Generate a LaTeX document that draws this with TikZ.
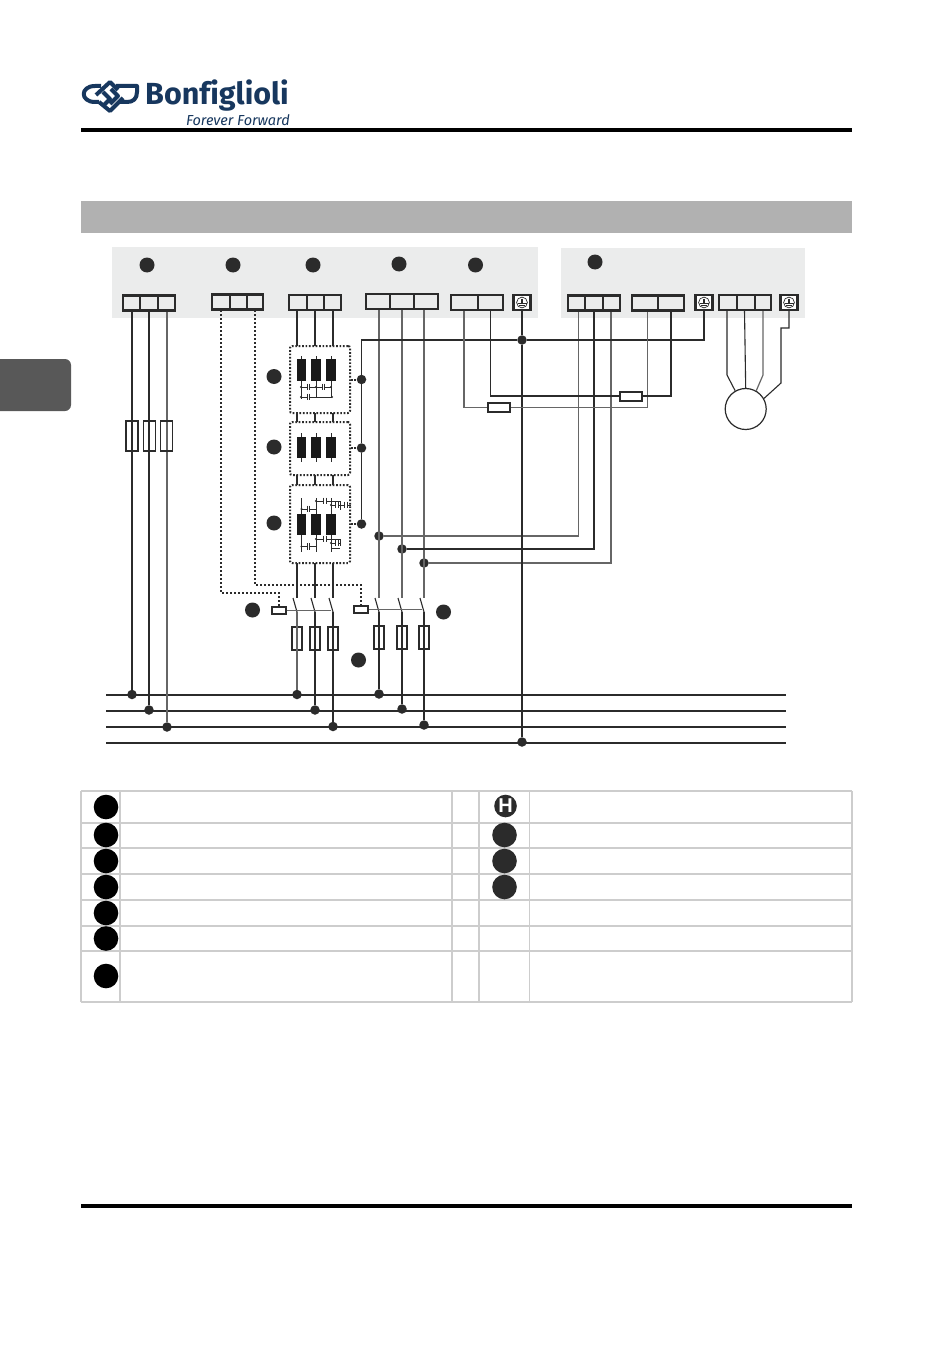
\documentclass[tikz,border=0pt]{standalone}
\usepackage{fontspec}
\setmainfont{Fira Sans}
\newfontfamily\logofont[Ligatures=NoCommon]{Fira Sans}
\newfontfamily\hfont{Liberation Sans}
\definecolor{ink}{HTML}{2B2B2B}
\definecolor{paneg}{HTML}{EBECEC}
\definecolor{barg}{HTML}{B1B1B1}
\definecolor{tabg}{HTML}{585858}
\definecolor{tabl}{HTML}{CDCDCD}
\definecolor{logob}{HTML}{17375E}
\definecolor{wg}{HTML}{666666}
\tikzset{
  x=1pt,y=-1pt,
  cell/.style={draw=ink,line width=2.2pt,inner sep=0pt,minimum height=15pt},
  wa/.style={draw=ink,line width=1.8pt},
  wb/.style={draw=ink,line width=1.1pt},
  wc/.style={draw=wg,line width=1.2pt},
  dashw/.style={draw=ink,line width=1.3pt,dash pattern=on 2.2pt off 1.8pt},
  dotbox/.style={draw=ink,line width=2pt,dash pattern=on 1.7pt off 1.7pt,rounded corners=2pt,inner sep=0pt},
  jn/.style={circle,fill=ink,inner sep=0pt,minimum size=9.5pt},
  mdot/.style={circle,fill=ink,inner sep=0pt,minimum size=15pt},
  leg/.style={circle,fill=black,inner sep=0pt,minimum size=24.6pt},
  legb/.style={circle,fill=ink,inner sep=0pt,minimum size=24.6pt},
  fusev/.style={draw=ink,line width=2pt,inner sep=0pt,minimum width=10pt,minimum height=23pt},
  fuset/.style={draw=ink,line width=1.9pt,inner sep=0pt,minimum width=12pt,minimum height=30pt},
  fuseh/.style={draw=ink,line width=2pt,inner sep=0pt,minimum width=22pt,minimum height=9pt},
  coil/.style={draw=ink,line width=1.1pt,fill=white,inner sep=0pt,minimum width=14pt,minimum height=7pt},
  chokebk/.style={fill=black!90,inner sep=0pt,minimum width=9.5pt},
  tabline/.style={draw=tabl,line width=1.4pt},
  capw/.style={draw=ink,line width=.9pt},
}
\newcommand{\earthterm}[3]{%
  \node[cell,fill=white,minimum width=17pt] (#1) at (#2,#3) {};
  \draw[ink,line width=.7pt] (#2,#3) circle[radius=5.4];
  \draw[ink,line width=1.1pt] (#2,#3-4) -- (#2,#3+1) (#2-4.5,#3+1) -- (#2+4.5,#3+1) (#2-3,#3+3) -- (#2+3,#3+3);
}
\newcommand{\capv}[2]{% horizontal wire with a capacitor
  \fill[white] (#1-1.2,#2-3) rectangle (#1+1.2,#2+3);
  \draw[capw] (#1-1.3,#2-3.4) -- (#1-1.3,#2+3.4) (#1+1.3,#2-3.4) -- (#1+1.3,#2+3.4);
}
\begin{document}
\begin{tikzpicture}
\useasboundingbox (0,0) rectangle (950,1348);
\fill[white] (0,0) rectangle (950,1348);

% page furniture
\node[font=\logofont\bfseries\fontsize{30.5}{30}\selectfont,text=logob,anchor=base west,inner sep=0pt] (brand) at (145,104.5) {Bonfiglioli};
\node[font=\logofont\itshape\fontsize{14.5}{14}\selectfont,text=logob,anchor=base east,inner sep=0pt] (claim) at (290,125.5) {Forever Forward};
\begin{scope}[logob,line width=4pt,line join=round]
 \draw (101,86) -- (95,86) .. controls (80,86) and (80,102) .. (95,102) -- (99,102);
 \draw (96,95) -- (110,82) -- (118,90);
 \draw (103,92) -- (110,99) -- (103,106);
 \draw (99,102) -- (110,111) -- (123,98);
 \draw (111,89) -- (118,96) -- (110,104);
 \draw (116,86) -- (137,86) -- (137,92) .. controls (137,99) and (133,102) .. (127,102) -- (120,102);
\end{scope}
\fill[black] (81,128.2) rectangle (852,131.8);
\fill[barg] (81,201) rectangle (852,233.5);
\fill[black] (81,1204.3) rectangle (852,1207.7);
\path[fill=tabg,rounded corners=6pt] (-10,359) rectangle (71,411);

% grey panels
\fill[paneg] (112,247) rectangle (538,318);
\fill[paneg] (561,248) rectangle (805,318);

% header markers
\node[mdot] (m1) at (147,265) {};
\node[mdot] (m2) at (233,265) {};
\node[mdot] (m3) at (313,265) {};
\node[mdot] (m4) at (399,264) {};
\node[mdot] (m5) at (475.5,265) {};
\node[mdot] (m6) at (595,262) {};
\node[mdot] (m7) at (274,376.5) {};
\node[mdot] (m8) at (274,447) {};
\node[mdot] (m9) at (274,523) {};
\node[mdot] (m10) at (252.5,610) {};
\node[mdot] (m11) at (443.5,612) {};
\node[mdot] (m12) at (358.5,660) {};

% terminal wire start points
\foreach \n/\x/\y in {a1/132/311,a2/149/311,a3/167/311,
  b1/221/310,b3/255/310,
  c1/297/311,c2/315/311,c3/333/311,
  d1/379/310,d2/402/310,d3/424/310,
  e1/464/311,e2/490.5/311,
  f1/578.5/311,f2/594/311,f3/611/311,
  g1/647.5/311,g2/671/311,
  h1/727/311,h2/744.5/311,h3/763/311,
  pe1/522/311,pe2/704/311,pe3/789/311}
  \coordinate (\n) at (\x,\y);

% filter boxes
\node[dotbox,minimum width=60pt,minimum height=67pt] (fa) at (320,379.5) {};
\node[dotbox,minimum width=60pt,minimum height=53pt] (fb) at (320,448.5) {};
\node[dotbox,minimum width=60pt,minimum height=78pt] (fc) at (320,524) {};

% bus bars
\foreach \n/\y in {1/695,2/711,3/727,4/743}{
  \coordinate (busl\n) at (106,\y);
  \coordinate (busr\n) at (786,\y);
  \draw[ink,line width=2pt] (busl\n) -- (busr\n);
}

% junctions
\node[jn] (ja1) at (132,694.5) {};
\node[jn] (ja2) at (149,710) {};
\node[jn] (ja3) at (167,727) {};
\node[jn] (jc1) at (297,694.5) {};
\node[jn] (jc2) at (315,710) {};
\node[jn] (jc3) at (333,726.5) {};
\node[jn] (jd1) at (379,694) {};
\node[jn] (jd2) at (402,709) {};
\node[jn] (jd3) at (424,725) {};
\node[jn] (jpe) at (522,742) {};
\node[jn] (jr) at (522,340) {};
\node[jn] (js1) at (361.5,379.5) {};
\node[jn] (js2) at (361.5,448) {};
\node[jn] (js3) at (361.5,524) {};
\node[jn] (jt1) at (379,536) {};
\node[jn] (jt2) at (402,549) {};
\node[jn] (jt3) at (424,563) {};

% mains wires with fuses
\draw[wa] (a1) -- (ja1);
\draw[wa] (a2) -- (ja2);
\draw[wc,line width=1.6pt] (a3) -- (ja3);
\node[fuset] (fu1) at (132,436) {};
\node[fuset] (fu2) at (149.5,436) {};
\node[fuset] (fu3) at (166.5,436) {};

% dashed control
\coordinate (cc1) at (279,593);
\coordinate (cc2) at (361,585);
\node[coil] (coila) at (279,610.5) {};
\node[coil] (coilb) at (361,609.5) {};
\draw[dashw] (b1) |- (cc1) -- (coila);
\draw[dashw] (b3) |- (cc2) -- (coilb);

% contactor 1 wires: segments between the filter boxes
\foreach \x/\n/\k in {297/1/c1,315/2/c2,333/3/c3}{
  \coordinate (sw\n t) at (\x,598);
  \coordinate (sw\n a) at (\x-4,598);
  \coordinate (sw\n b) at (\x,612);
  \coordinate (seg\n p) at (\x,346);
  \coordinate (seg\n q) at (\x,413);
  \coordinate (seg\n r) at (\x,422);
  \coordinate (seg\n s) at (\x,475);
  \coordinate (seg\n u) at (\x,485);
  \coordinate (seg\n v) at (\x,563);
  \draw[wa] (\k) -- (seg\n p) (seg\n q) -- (seg\n r) (seg\n s) -- (seg\n u) (seg\n v) -- (sw\n t);
  \draw[wb] (sw\n a) -- (sw\n b);
  \node[fusev] (fc\n) at (\x,638.5) {};
}
\draw[wc,line width=1.6pt] (sw1b) -- (jc1);
\draw[wb] (sw2b) -- (jc2);
\draw[wb] (sw3b) -- (jc3);
\draw[wc] (coila) -- (331,610.5);

% contactor 2 wires
\foreach \x/\n/\k in {379/4/d1,402/5/d2,424/6/d3}{
  \coordinate (sw\n t) at (\x,598);
  \coordinate (sw\n a) at (\x-4,598);
  \coordinate (sw\n b) at (\x,612);
  \draw[wc] (\k) -- (sw\n t);
  \draw[wb] (sw\n a) -- (sw\n b);
  \node[fusev] (fc\n) at (\x,637.5) {};
}
\draw[wb] (sw4b) -- (jd1);
\draw[wb] (sw5b) -- (jd2);
\draw[wb] (sw6b) -- (jd3);
\draw[wc] (coilb) -- (422,609.5);

% inverter connections
\draw[wc] (jt1) -| (f1);
\draw[wb] (jt2) -| (f2);
\draw[wc] (jt3) -| (f3);

% PE
\coordinate (per) at (361.5,340);
\draw[wa] (pe1) -- (jr);
\draw[wa] (jr) -- (jpe);
\draw[wa] (jr) -- (per) -- (js1);
\draw[wa] (js1) -- (js2);
\draw[wa] (js2) -- (js3);
\draw[wa] (jr) -| (pe2);
\foreach \j/\y in {js1/379.5,js2/448,js3/524}
  \draw[ink,line width=2pt,dash pattern=on 1.7pt off 1.7pt] (351,\y) -- (\j);

% brake resistor / DC lines
\node[fuseh] (fh1) at (498.5,407.5) {};
\node[fuseh] (fh2) at (631,396) {};
\draw[wc] (e1) |- (fh1);
\draw[wc] (fh1) -| (g1);
\draw[wb] (e2) |- (fh2);
\draw[wb] (fh2) -| (g2);

% motor
\node[circle,draw=ink,line width=1.2pt,inner sep=0pt,minimum size=41pt] (motor) at (745.7,409) {};
\coordinate (mk1) at (727,375);
\coordinate (mk3) at (763,375);
\coordinate (mkp1) at (789,328);
\coordinate (mkp2) at (781,328);
\coordinate (mkp3) at (781,383);
\draw[wb] (h1) -- (mk1) -- (motor.120);
\draw[wb] (h2) -- (motor.north);
\draw[wc] (h3) -- (mk3) -- (motor.60);
\draw[wb] (pe3) -- (mkp1) -- (mkp2) -- (mkp3) -- (motor.30);

% terminal blocks
\foreach \n/\x/\w/\y in {t1a/131.5/17/303,t1b/149/18/303,t1c/166.5/17/303,
  t2a/221/18/302,t2b/238.5/17/302,t2c/255/16/302,
  t3a/298/18/302.5,t3b/315.5/17/302.5,t3c/332.5/17/302.5,
  t4a/378/24/301.5,t4b/402/24/301.5,t4c/426/24/301.5,
  t5a/464.5/27/302.5,t5b/490.5/25/302.5,
  t6a/576.5/17/303,t6b/594/18/303,t6c/611.5/17/303,
  t7a/645/26/303,t7b/671/26/303,
  t8a/728/18/302.5,t8b/746/18/302.5,t8c/763/16/302.5}
  \node[cell,minimum width=\w pt] (\n) at (\x,\y) {};
\earthterm{ea}{522}{302.5}
\earthterm{eb}{704}{302.5}
\earthterm{ec}{789}{302.5}

% chokes
\foreach \x/\n in {301.5/1,316/2,331/3}{
  \coordinate (la\n) at (\x,356);
  \coordinate (lb\n) at (\x,385);
  \draw[ink,line width=.9pt] (la\n) -- (lb\n);
  \node[chokebk,minimum height=22pt] (cha\n) at (\x,370) {};
  \coordinate (lc\n) at (\x,433);
  \coordinate (ld\n) at (\x,462);
  \draw[ink,line width=.9pt] (lc\n) -- (ld\n);
  \node[chokebk,minimum height=21pt] (chb\n) at (\x,447.5) {};
  \coordinate (le\n) at (\x,498);
  \coordinate (lf\n) at (\x,552);
  \draw[ink,line width=.9pt] (le\n) -- (lf\n);
  \node[chokebk,minimum height=21pt] (chc\n) at (\x,524.5) {};
}
% filter A capacitors
\draw[capw] (301,387) -- (331,387) (301,397) -- (332,397) (301,385) -- (301,399) (316,385) -- (316,397) (331,385) -- (331,397);
\capv{308.5}{387}\capv{323.5}{387}\capv{308.5}{397}
\foreach \x/\y in {301/387,316/387,331/387,301/397,332/397}
  \fill[ink] (\x,\y) circle[radius=1.2];

% filter C capacitors
\draw[capw] (301.5,509) -- (316,509) (316,501) -- (340,501) -- (340,510) (331,505) -- (351,505)
  (316,539) -- (340,539) -- (340,546) (331,543) -- (340,543) (301.5,546.5) -- (316,546.5) (331,548) -- (340,548);
\capv{308.5}{509}\capv{325}{501}\capv{337}{505}\capv{346}{505}
\capv{308.5}{546.5}\capv{325}{539}\capv{337}{543}
\foreach \x/\y in {301.5/509,316/501,331/505,316/539,331/543,301.5/546.5}
  \fill[ink] (\x,\y) circle[radius=1.2];

% legend table
\foreach \y in {791,823,848,874,900,926,951,1002}
  \draw[tabline] (81,\y) -- (852,\y);
\foreach \x in {81,120,452,479,529.5,852}
  \draw[tabline] (\x,791) -- (\x,1002);
\node[leg] (lega) at (106,807) {};
\node[leg] (legb) at (106,835) {};
\node[leg] (legc) at (106,861) {};
\node[leg] (legd) at (106,887) {};
\node[leg] (lege) at (106,913) {};
\node[leg] (legf) at (106,938.5) {};
\node[leg] (legg) at (106,976) {};
\node[circle,fill=ink,inner sep=0pt,minimum size=22.6pt,text=white,font=\hfont\bfseries\fontsize{20}{20}\selectfont] (legh) at (505.5,806) {H};
\node[legb] (legi) at (504.5,835) {};
\node[legb] (legj) at (504.5,861) {};
\node[legb] (legk) at (504.5,887) {};
\end{tikzpicture}
\end{document}
